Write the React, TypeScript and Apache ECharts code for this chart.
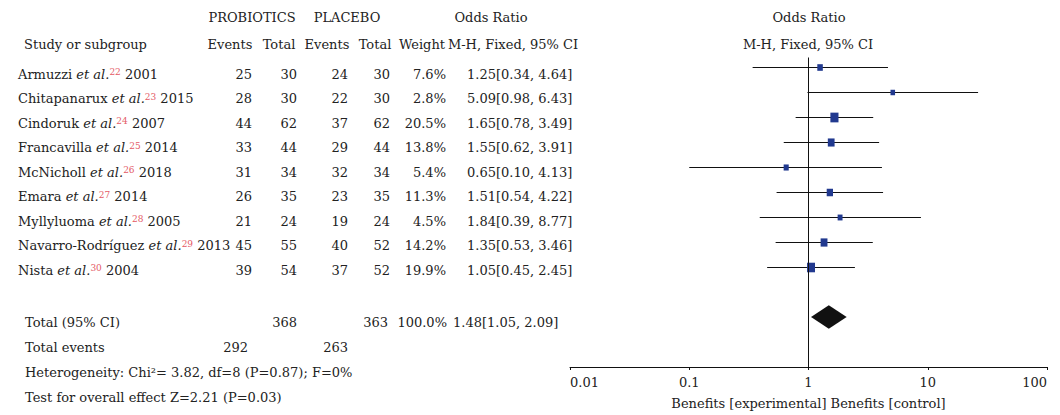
import { useEffect, useRef } from "react";
import * as echarts from "echarts";

const studyNames = ["Armuzzi", "Chitapanarux", "Cindoruk", "Francavilla", "McNicholl", "Emara", "Myllyluoma", "Navarro-Rodríguez", "Nista"];
const studyRefs = ["22", "23", "24", "25", "26", "27", "28", "29", "30"];
const studyYears = ["2001", "2015", "2007", "2014", "2018", "2014", "2005", "2013", "2004"];
const probEvents = [25, 28, 44, 33, 31, 26, 21, 45, 39];
const probTotal = [30, 30, 62, 44, 34, 35, 24, 55, 54];
const placEvents = [24, 22, 37, 29, 32, 23, 19, 40, 37];
const placTotal = [30, 30, 62, 44, 34, 35, 24, 52, 52];
const weights = [7.6, 2.8, 20.5, 13.8, 5.4, 11.3, 4.5, 14.2, 19.9];
const oddsRatio = [1.25, 5.09, 1.65, 1.55, 0.65, 1.51, 1.84, 1.35, 1.05];
const ciLow = [0.34, 0.98, 0.78, 0.62, 0.1, 0.54, 0.39, 0.53, 0.45];
const ciHigh = [4.64, 26.43, 3.49, 3.91, 4.13, 4.22, 8.77, 3.46, 2.45];
const ciText = [
  "1.25[0.34, 4.64]",
  "5.09[0.98, 6.43]",
  "1.65[0.78, 3.49]",
  "1.55[0.62, 3.91]",
  "0.65[0.10, 4.13]",
  "1.51[0.54, 4.22]",
  "1.84[0.39, 8.77]",
  "1.35[0.53, 3.46]",
  "1.05[0.45, 2.45]",
];
const totalOR = 1.48;
const totalLow = 1.05;
const totalHigh = 2.09;
const totalProb = "368";
const totalPlac = "363";
const totalWeight = "100.0%";
const totalText = "1.48[1.05, 2.09]";
const totalEventsProb = "292";
const totalEventsPlac = "263";
const heterogeneityText = "Heterogeneity: Chi²= 3.82, df=8 (P=0.87); F=0%";
const overallText = "Test for overall effect Z=2.21 (P=0.03)";
const tickLabels = ["0.01", "0.1", "1", "10", "100"];
const axisTitle = "Benefits [experimental] Benefits [control]";

const FF = '"DejaVu Serif"';
const FONT = `13px ${FF}`;
const INK = "#222";
const GRID_TOP = 42;
const GRID_BOTTOM = 45;
const GRID_H = 415 - GRID_TOP - GRID_BOTTOM;

function txt(x: number, y: number, text: string, align: string = "left", rich?: any) {
  const style: any = {
    text,
    x,
    y,
    font: FONT,
    fill: INK,
    align,
    textAlign: align,
    verticalAlign: "middle",
    textVerticalAlign: "middle",
  };
  if (rich) style.rich = rich;
  return { type: "text", silent: true, style };
}

export default function App() {
  const ref = useRef<HTMLDivElement>(null);
  useEffect(() => {
    if (!ref.current) return;
    const chart = echarts.init(ref.current, null, { renderer: "svg" });

    const rich = {
      i: { font: `italic 13px ${FF}`, fill: INK },
      s: { font: `9px ${FF}`, fill: "#e45a66", verticalAlign: "top" },
    };

    const g: any[] = [];
    g.push(txt(252, 17, "PROBIOTICS", "center"));
    g.push(txt(347, 17, "PLACEBO", "center"));
    g.push(txt(491, 17, "Odds Ratio", "center"));
    g.push(txt(24, 44, "Study or subgroup", "left"));
    g.push(txt(230, 44, "Events", "center"));
    g.push(txt(279, 44, "Total", "center"));
    g.push(txt(327, 44, "Events", "center"));
    g.push(txt(375, 44, "Total", "center"));
    g.push(txt(422, 44, "Weight", "center"));
    g.push(txt(513, 44, "M-H, Fixed, 95% CI", "center"));
    g.push(txt(809, 17, "Odds Ratio", "center"));
    g.push(txt(808, 44, "M-H, Fixed, 95% CI", "center"));

    studyNames.forEach((name, i) => {
      const y = 74 + i * 24.5;
      g.push(txt(18, y, `${name} {i|et al.}{s|${studyRefs[i]}} ${studyYears[i]}`, "left", rich));
      g.push(txt(252, y, String(probEvents[i]), "right"));
      g.push(txt(297, y, String(probTotal[i]), "right"));
      g.push(txt(348, y, String(placEvents[i]), "right"));
      g.push(txt(390, y, String(placTotal[i]), "right"));
      g.push(txt(446, y, weights[i].toFixed(1) + "%", "right"));
      g.push(txt(467, y, ciText[i], "left"));
    });

    g.push(txt(25, 322, "Total (95% CI)", "left"));
    g.push(txt(297, 322, totalProb, "right"));
    g.push(txt(388, 322, totalPlac, "right"));
    g.push(txt(447, 322, totalWeight, "right"));
    g.push(txt(453, 322, totalText, "left"));
    g.push(txt(25, 347, "Total events", "left"));
    g.push(txt(248, 347, totalEventsProb, "right"));
    g.push(txt(348, 347, totalEventsPlac, "right"));
    g.push(txt(25, 372, heterogeneityText, "left"));
    g.push(txt(25, 397, overallText, "left"));

    const studyData = studyNames.map((_, i) => [oddsRatio[i], ciLow[i], ciHigh[i], i + 1, weights[i]]);
    const totalPos = studyNames.length + 2;

    const logAxis = { type: "log", logBase: 10, min: 0.01, max: 100, splitLine: { show: false } };

    chart.setOption({
      animation: false,
      graphic: { elements: g },
      grid: { left: 570, right: 13, top: GRID_TOP, bottom: GRID_BOTTOM, containLabel: false },
      xAxis: [
        {
          ...logAxis,
          position: "bottom",
          axisLine: { show: true, onZero: false, lineStyle: { color: "#111", width: 1 } },
          axisTick: { show: true, length: 3, lineStyle: { color: "#111" } },
          axisLabel: {
            color: INK,
            fontFamily: FF,
            fontSize: 13,
            margin: 9,
            alignMinLabel: "left",
            alignMaxLabel: "right",
            formatter: (_v: number, idx: number) => tickLabels[idx] ?? "",
          },
          name: axisTitle,
          nameLocation: "middle",
          nameGap: 30,
          nameTextStyle: { color: INK, fontFamily: FF, fontSize: 13 },
        },
        {
          ...logAxis,
          position: "top",
          offset: -GRID_H,
          axisLine: { show: false, onZero: false },
          axisTick: { show: true, length: 3, lineStyle: { color: "#111" } },
          axisLabel: { show: false },
        },
      ],
      yAxis: {
        type: "value",
        inverse: true,
        min: 0,
        max: 13,
        show: false,
      },
      series: [
        {
          type: "line",
          data: [
            [1, 0.62],
            [1, 13],
          ],
          symbol: "none",
          lineStyle: { color: "#111", width: 1 },
          silent: true,
        },
        {
          type: "custom",
          data: studyData,
          encode: { x: [0, 1, 2], y: 3 },
          silent: true,
          renderItem: (_params: any, api: any) => {
            const pos = api.value(3);
            const pLo = api.coord([api.value(1), pos]);
            const pHi = api.coord([api.value(2), pos]);
            const p = api.coord([api.value(0), pos]);
            const ly = Math.round(p[1]) + 0.5;
            const w = 4 + 0.2 * api.value(4);
            const h = w * 1.2;
            return {
              type: "group",
              children: [
                {
                  type: "line",
                  shape: { x1: pLo[0], y1: ly, x2: pHi[0], y2: ly },
                  style: { stroke: "#111", lineWidth: 1 },
                },
                {
                  type: "rect",
                  shape: { x: p[0] - w / 2, y: ly - h / 2, width: w, height: h },
                  style: { fill: "#21398f" },
                },
              ],
            };
          },
        },
        {
          type: "custom",
          data: [[totalOR, totalLow, totalHigh, totalPos]],
          encode: { x: [0, 1, 2], y: 3 },
          silent: true,
          renderItem: (_params: any, api: any) => {
            const pos = api.value(3);
            const pLo = api.coord([api.value(1), pos]);
            const pHi = api.coord([api.value(2), pos]);
            const pTop = api.coord([api.value(0), pos - 0.47]);
            const pBot = api.coord([api.value(0), pos + 0.47]);
            return {
              type: "polygon",
              shape: { points: [pLo, pTop, pHi, pBot] },
              style: { fill: "#111" },
            };
          },
        },
      ],
    });
    return () => chart.dispose();
  }, []);
  return <div ref={ref} style={{ position: "absolute", left: 0, top: 0, width: 1060, height: 415 }} />;
}
